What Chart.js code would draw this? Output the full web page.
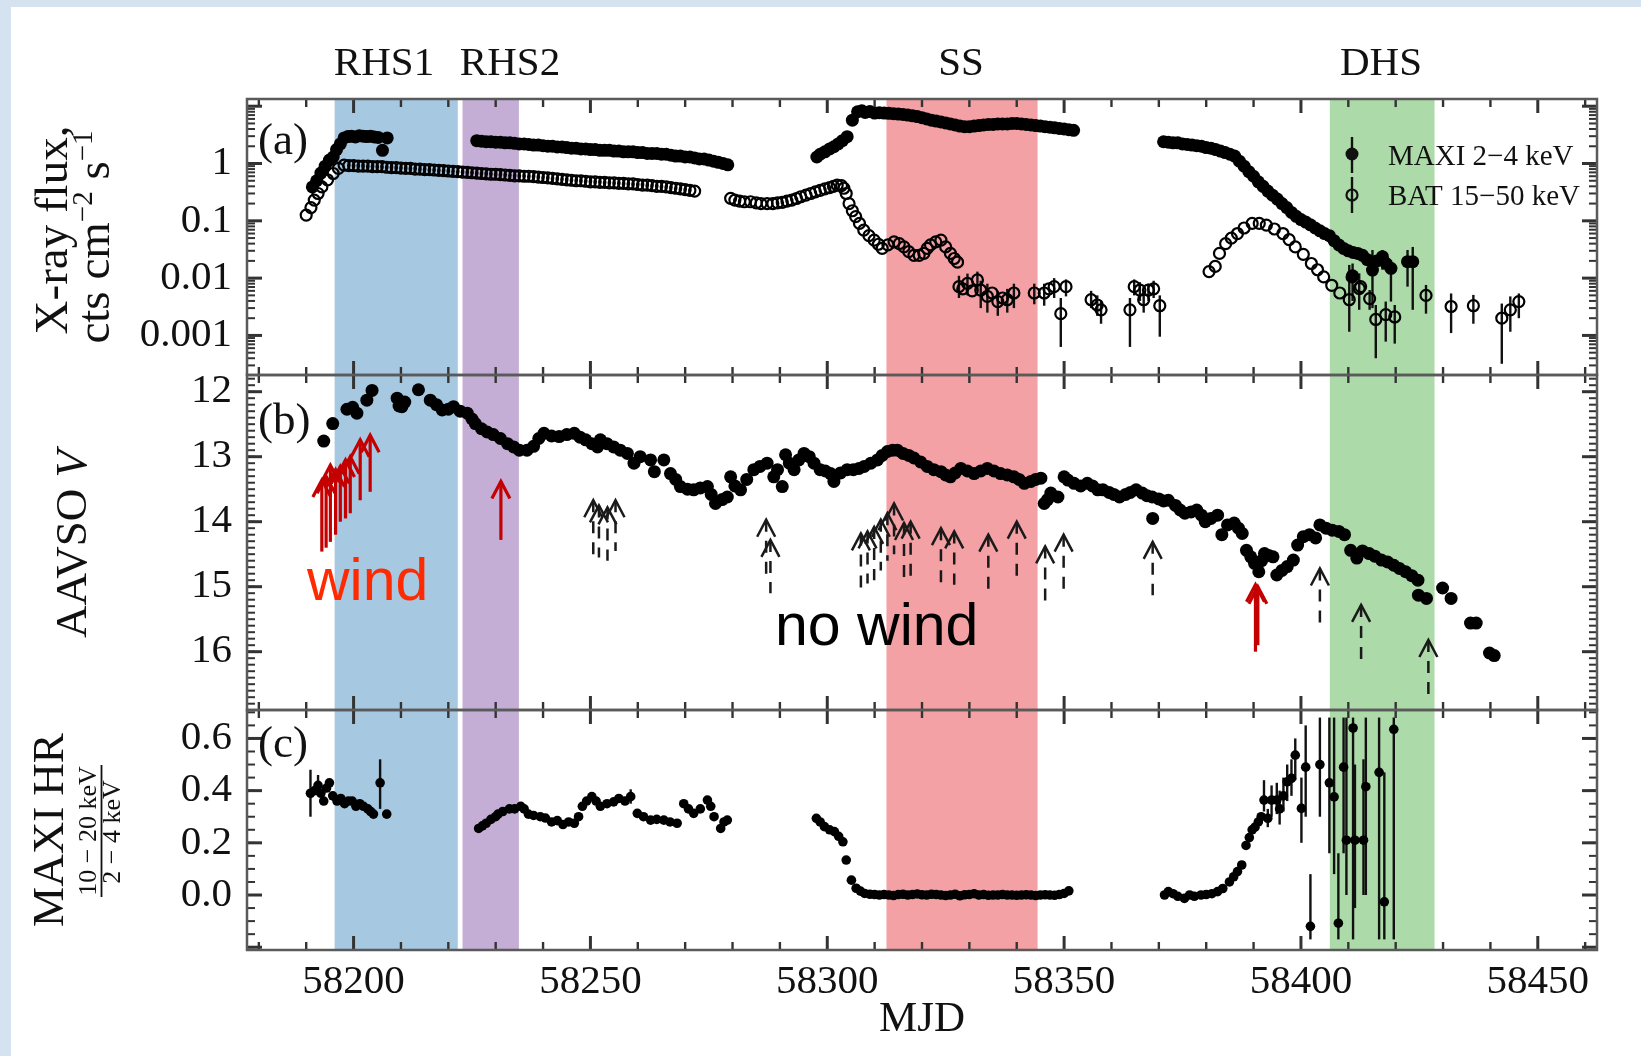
<!DOCTYPE html>
<html>
<head>
<meta charset="utf-8">
<script src="https://cdn.jsdelivr.net/npm/chart.js@4.4.1/dist/chart.umd.min.js"></script>
<style>
  html, body { margin: 0; padding: 0; }
  body { width: 1641px; height: 1056px; position: relative; overflow: hidden;
         background: #d5e3f1; }
  #sheet { position: absolute; left: 11px; top: 7px; right: 0; bottom: 0; background: #fff; }
  #chart { position: absolute; left: 0; top: 0; }
</style>
</head>
<body>
<div id="sheet"></div>
<canvas id="chart" width="1641" height="1056"></canvas>
<script>
// ---- axis ranges and ticks ----
const X_MIN = 58177.5, X_MAX = 58462.5;
const xMajorTicks = [58200, 58250, 58300, 58350, 58400, 58450];
const fluxTicks = [0.001, 0.01, 0.1, 1];
const fluxTickLabels = ['0.001', '0.01', '0.1', '1'];
const magTicks = [12, 13, 14, 15, 16];
const hrTicks = [0, 0.2, 0.4, 0.6];
const hrTickLabels = ['0.0', '0.2', '0.4', '0.6'];

// ---- spectral states (MJD start, end) ----
const stateNames = ['RHS1', 'RHS2', 'SS', 'DHS'];
const stateSpans = [[58196, 58222], [58223, 58234.9], [58312.5, 58344.4], [58406.1, 58428.2]];

// ---- (a) MAXI 2-4 keV flux ----
const maxiPoints = [
  [58191.3,0.39],[58192.2,0.5],[58193.1,0.68],[58194.0,0.9],[58194.9,1.15],[58195.7,1.3],[58196.4,1.75],
  [58197.2,2.2],[58198.0,2.8],[58198.8,2.95],[58199.6,3.0],[58200.4,2.9],[58201.2,3.05],[58202.0,3.0],
  [58202.8,2.95],[58203.6,3.0],[58204.4,2.9],[58205.2,2.85],[58206.1,1.7],[58207.1,2.8],
  [58226,2.5],[58227,2.45],[58228,2.4],[58229,2.4],[58230,2.35],[58231,2.35],[58232,2.3],[58233,2.3],
  [58234,2.25],[58235,2.2],[58236,2.2],[58237,2.15],[58238,2.1],[58239,2.1],[58240,2.05],[58241,2.0],
  [58242,2.0],[58243,1.95],[58244,1.95],[58245,1.9],[58246,1.85],[58247,1.85],[58248,1.8],[58249,1.8],
  [58250,1.75],[58251,1.75],[58252,1.7],[58253,1.7],[58254,1.7],[58255,1.65],[58256,1.65],[58257,1.6],
  [58258,1.6],[58259,1.6],[58260,1.55],[58261,1.55],[58262,1.5],[58263,1.5],[58264,1.5],[58265,1.45],
  [58266,1.45],[58267,1.4],[58268,1.35],[58269,1.35],[58270,1.3],[58271,1.3],[58272,1.25],[58273,1.2],
  [58274,1.2],[58275,1.15],[58276,1.1],[58277,1.05],[58278,1.0],[58279,0.95],
  [58297.8,1.3],[58298.5,1.45],[58299.5,1.6],[58300.5,1.8],[58301.4,1.96],[58302.3,2.2],[58303.2,2.5],
  [58304.2,2.94],[58305.3,5.7],[58306.4,8.0],[58307.3,8.3],[58308,7.8],[58309,8.1],[58310,7.6],
  [58311,7.7],[58312,7.6],[58313,7.5],[58314,7.4],[58315,7.3],[58316,7.2],[58317,7.0],[58318,6.8],
  [58319,6.6],[58320,6.3],[58321,6.0],[58322,5.7],[58323,5.5],[58324,5.3],[58325,5.1],[58326,4.9],
  [58327,4.7],[58328,4.5],[58329,4.4],[58330,4.4],[58331,4.5],[58332,4.6],[58333,4.7],[58334,4.8],
  [58335,4.8],[58336,4.9],[58337,4.9],[58338,4.9],[58339,5.0],[58340,5.0],[58341,4.9],[58342,4.8],
  [58343,4.7],[58344,4.6],[58345,4.5],[58346,4.4],[58347,4.3],[58348,4.2],[58349,4.1],[58350,4.0],
  [58351,3.9],[58352,3.8],
  [58371,2.4],[58372,2.35],[58373,2.3],[58374,2.3],[58375,2.2],[58376,2.15],[58377,2.1],[58378,2.05],
  [58379,2.0],[58380,1.9],[58381,1.85],[58382,1.75],[58383,1.65],[58384,1.55],[58385,1.45],[58386,1.35],
  [58387,1.1],[58388,0.9],[58389,0.72],[58390,0.6],[58391,0.48],[58392,0.4],[58393,0.33],[58394,0.28],
  [58395,0.24],[58396,0.2],[58397,0.17],[58398,0.14],[58399,0.12],[58400,0.105],[58401,0.095],
  [58402,0.085],[58403,0.075],[58404,0.067],[58405,0.06],[58406,0.055],[58407,0.045],[58408,0.038],
  [58409,0.033],[58410,0.03],[58410.9,0.011],[58411,0.028],[58412,0.027],[58413,0.025],[58414,0.021],
  [58415.1,0.0138],[58416,0.02],[58417.2,0.0237],[58418,0.018],[58419,0.0148],[58422.5,0.0194],[58423.6,0.0194]
];
const maxiErr = [
  [58410.9,0.004,0.018],[58415.1,0.003,0.031],[58417.2,0.014,0.031],[58419,0.0039,0.0207],
  [58422.5,0.0071,0.031],[58423.6,0.0028,0.035]
];

// ---- (a) BAT 15-50 keV flux ----
const batPoints = [
  [58190.0,0.126],[58191.0,0.17],[58191.7,0.23],[58192.5,0.3],[58193.3,0.39],[58194.5,0.52],[58195.7,0.67],
  [58196.8,0.82],[58198,0.94],[58199,0.92],[58200,0.92],[58201,0.9],[58202,0.9],[58203,0.9],[58204,0.88],
  [58205,0.88],[58206,0.88],[58207,0.86],[58208,0.85],[58209,0.85],[58210,0.83],[58211,0.82],[58212,0.82],
  [58213,0.8],[58214,0.8],[58215,0.78],[58216,0.78],[58217,0.77],[58218,0.76],[58219,0.75],[58220,0.74],
  [58221,0.73],[58222,0.72],[58223,0.71],[58224,0.7],[58225,0.69],[58226,0.68],[58227,0.67],[58228,0.66],
  [58229,0.65],[58230,0.65],[58231,0.64],[58232,0.63],[58233,0.62],[58234,0.61],[58235,0.61],[58236,0.6],
  [58237,0.6],[58238,0.59],[58239,0.58],[58240,0.57],[58241,0.56],[58242,0.55],[58243,0.54],[58244,0.53],
  [58245,0.52],[58246,0.51],[58247,0.5],[58248,0.5],[58249,0.49],[58250,0.48],[58251,0.48],[58252,0.47],
  [58253,0.47],[58254,0.46],[58255,0.46],[58256,0.45],[58257,0.45],[58258,0.44],[58259,0.44],[58260,0.43],
  [58261,0.42],[58262,0.42],[58263,0.41],[58264,0.4],[58265,0.4],[58266,0.39],[58267,0.38],[58268,0.37],
  [58269,0.36],[58270,0.35],[58271,0.34],[58272,0.33],
  [58279.6,0.247],[58280.5,0.23],[58281.5,0.22],[58282.5,0.215],[58283.8,0.215],[58285,0.205],[58286,0.2],
  [58287.3,0.2],[58288.5,0.2],[58289.5,0.205],[58290.5,0.21],[58291.5,0.22],[58292.5,0.23],[58293.5,0.245],
  [58294.4,0.263],[58295.5,0.28],[58296.5,0.3],[58297.5,0.32],[58298.5,0.34],[58299.5,0.36],[58300.5,0.38],
  [58301.3,0.4],[58302.1,0.42],[58303,0.41],[58303.5,0.37],[58304,0.3],[58304.6,0.2],[58305.3,0.15],
  [58306,0.118],[58306.8,0.09],[58307.7,0.069],[58308.8,0.055],[58309.9,0.046],[58310.8,0.039],
  [58311.6,0.033],[58312.8,0.038],[58314.1,0.043],[58315.2,0.04],[58316.2,0.035],[58317.2,0.029],
  [58318.3,0.025],[58319.4,0.025],[58320.4,0.027],[58321.1,0.033],[58321.8,0.038],[58322.9,0.043],
  [58324,0.046],[58325,0.035],[58326,0.027],[58326.8,0.022],[58327.5,0.019],
  [58327.8,0.0071],[58328.6,0.0065],[58329.6,0.0081],[58330.6,0.006],[58331.7,0.0093],[58332.4,0.0062],
  [58333.8,0.0048],[58334.8,0.0055],[58336,0.0039],[58337,0.0045],[58338,0.0042],[58339.4,0.0055],
  [58343.7,0.0055],[58345.8,0.0055],[58346.8,0.0065],[58347.9,0.0071],[58349.3,0.0024],[58350.4,0.0071],
  [58355.7,0.0042],[58357,0.0034],[58357.8,0.0028],[58363.9,0.0028],[58364.8,0.0071],[58366,0.0062],
  [58366.8,0.0042],[58367.8,0.0062],[58368.9,0.0065],[58370.2,0.0033],
  [58380.6,0.013],[58381.9,0.016],[58382.8,0.027],[58384.1,0.04],[58385.3,0.05],[58386.6,0.06],
  [58388,0.075],[58389.7,0.09],[58391.2,0.09],[58392.7,0.084],[58394.4,0.072],[58396.2,0.06],
  [58397.5,0.047],[58398.8,0.035],[58400.5,0.026],[58402.2,0.018],[58403.5,0.014],[58404.8,0.0105],
  [58406.5,0.0075],[58408.2,0.0055],[58410.2,0.0042],[58410.8,0.0105],[58412.3,0.0066],[58412.6,0.0071],
  [58414.5,0.0044],[58415.8,0.0019],[58417.9,0.0023],[58419.8,0.0021],[58426.4,0.005],[58431.7,0.0032],
  [58436.4,0.0033],[58442.4,0.002],[58444.2,0.0028],[58446,0.0039]
];
const batErr = [
  [58327.8,0.0045,0.011],[58329.6,0.005,0.012],[58331.7,0.006,0.013],[58332.4,0.003,0.009],
  [58333.8,0.0025,0.008],[58336,0.0022,0.006],[58338,0.0025,0.0065],[58339.4,0.003,0.008],
  [58343.7,0.0035,0.008],[58345.8,0.0033,0.008],[58347.9,0.0045,0.01],[58349.3,0.00063,0.0045],
  [58350.4,0.0048,0.0095],[58355.7,0.003,0.006],[58357,0.0022,0.005],[58357.8,0.0016,0.004],
  [58363.9,0.00063,0.0045],[58364.8,0.005,0.0095],[58366,0.004,0.0085],[58366.8,0.0025,0.006],
  [58367.8,0.004,0.008],[58368.9,0.0045,0.009],[58370.2,0.00095,0.005],
  [58410.2,0.00116,0.017],[58412.3,0.0028,0.0121],[58414.5,0.0028,0.0062],[58415.8,0.0004,0.0034],
  [58417.9,0.00078,0.0039],[58419.8,0.00072,0.0034],[58426.4,0.0024,0.0076],[58431.7,0.0011,0.0054],
  [58436.4,0.0016,0.0051],[58442.4,0.00032,0.0036],[58444.2,0.00116,0.0048],[58446,0.002,0.0054]
];

// ---- (b) AAVSO V magnitude ----
const vPoints = [
  [58193.7,12.76],[58195.6,12.49],[58198.6,12.27],[58199.8,12.24],[58200.7,12.33],[58202.8,12.13],
  [58203.9,11.98],[58209.2,12.1],[58209.6,12.22],[58210.2,12.23],[58210.8,12.16],[58213.7,11.97],
  [58216.2,12.13],[58217.5,12.2],[58218.7,12.28],[58220,12.27],[58221.1,12.23],[58222.5,12.3],
  [58224,12.33],[58225,12.42],[58225.7,12.49],[58227,12.57],[58228.2,12.62],[58229.5,12.66],
  [58231,12.72],[58232.5,12.8],[58233.8,12.85],[58235,12.9],[58236.6,12.9],[58238,12.84],
  [58239.1,12.72],[58240.2,12.64],[58241.8,12.68],[58243.4,12.69],[58245,12.66],[58246.6,12.64],
  [58247.8,12.7],[58249,12.74],[58250.3,12.8],[58251.5,12.85],[58252.1,12.74],[58253.5,12.8],
  [58254.9,12.85],[58256.3,12.9],[58257.8,12.95],[58259.2,13.1],[58260.5,13.0],[58262.7,13.05],
  [58263.5,13.23],[58265.5,13.05],[58266.9,13.26],[58268,13.35],[58269,13.46],[58270.5,13.5],
  [58271.8,13.51],[58273.2,13.48],[58274.7,13.46],[58275.5,13.58],[58276.4,13.72],[58277.8,13.66],
  [58278.9,13.62],[58279.6,13.31],[58280.5,13.45],[58281.7,13.51],[58283,13.35],[58284.5,13.2],
  [58285.8,13.15],[58287.3,13.1],[58288.7,13.31],[58289.5,13.2],[58290.5,13.46],[58291.2,12.97],
  [58292,13.1],[58293,13.2],[58294,13.05],[58295.1,12.95],[58296.2,13.0],[58297.2,13.1],
  [58298.5,13.2],[58299.6,13.22],[58300.7,13.26],[58301.4,13.38],[58302.8,13.25],[58304.2,13.2],
  [58305.5,13.2],[58306.7,13.18],[58307.8,13.15],[58309.2,13.1],[58310.6,13.05],[58311.6,12.98],
  [58312.7,12.92],[58313.8,12.9],[58314.8,12.9],[58316,12.95],[58317.2,12.98],[58318.3,13.02],
  [58319.7,13.08],[58321.1,13.15],[58322.5,13.2],[58324,13.23],[58325,13.28],[58326,13.31],
  [58327,13.25],[58328.2,13.18],[58329.6,13.22],[58331,13.26],[58332.4,13.22],[58333.8,13.18],
  [58335.2,13.22],[58336.6,13.26],[58338,13.28],[58339.4,13.31],[58340.5,13.35],[58341.6,13.41],
  [58343,13.38],[58344,13.35],[58345.1,13.33],[58345.8,13.72],[58346.5,13.66],[58347.2,13.56],
  [58348.7,13.62],[58350,13.31],[58350.8,13.36],[58352.1,13.41],[58353.5,13.45],[58354.9,13.41],
  [58356,13.45],[58357.1,13.51],[58358.2,13.51],[58359.5,13.55],[58360.5,13.58],[58361.7,13.62],
  [58363,13.58],[58364,13.55],[58365.2,13.51],[58366.5,13.56],[58367.5,13.6],[58368.6,13.62],
  [58368.7,13.95],[58370,13.65],[58371,13.68],[58372,13.67],[58373.5,13.75],[58374.5,13.82],
  [58375.5,13.87],[58376.8,13.85],[58378,13.82],[58379,13.9],[58379.8,14.0],[58381,13.95],
  [58382.4,13.9],[58383.3,14.2],[58384.5,14.05],[58385.9,14.02],[58386.8,14.1],[58387.6,14.18],
  [58388.5,14.44],[58389.4,14.54],[58390.2,14.64],[58391.1,14.77],[58391.7,14.6],[58392.3,14.49],
  [58393.2,14.52],[58394.1,14.54],[58394.9,14.82],[58396,14.75],[58397.1,14.69],[58398.4,14.59],
  [58399.3,14.36],[58400.5,14.23],[58401.8,14.2],[58403.1,14.25],[58404,14.05],[58405.3,14.1],
  [58406.6,14.13],[58408,14.15],[58409.2,14.2],[58410.5,14.44],[58411.8,14.56],[58413,14.45],
  [58414.4,14.49],[58415.6,14.53],[58417,14.59],[58418.3,14.62],[58419.6,14.67],[58420.8,14.72],
  [58422.1,14.77],[58423.4,14.83],[58424.7,14.9],[58424.8,15.13],[58426.5,15.18],[58429.9,15.02],
  [58431.7,15.18],[58435.8,15.56],[58437,15.56],[58439.8,16.02],[58440.8,16.06]
];

// ---- (b) spectral epochs: [MJD, arrow tip mag, arrow tail mag] ----
const windArrows = [
  [58193.3,13.36,14.46],[58194.2,13.3,14.4],[58195.1,13.13,14.31],[58196.2,13.2,14.2],[58197.2,13.15,14.0],
  [58198.3,13.05,13.95],[58199.3,13.0,13.87],[58201.4,12.74,13.67],[58203.5,12.67,13.54],
  [58231.1,13.38,14.28],[58390.4,14.97,16.0],[58390.9,15.0,15.9]
];
const noWindArrows = [
  [58250.6,13.67,14.5],[58251.8,13.75,14.55],[58253.6,13.78,14.6],[58255.3,13.67,14.45],
  [58287.1,13.97,14.9],[58288.0,14.28,15.1],[58307.1,14.18,15.02],[58308.5,14.15,14.95],
  [58309.9,14.08,14.9],[58311.3,13.97,14.75],[58312.7,13.87,14.6],[58314.1,13.72,14.5],
  [58316.2,14.02,14.85],[58317.6,14.0,14.85],[58324.0,14.1,14.95],[58326.8,14.15,14.97],
  [58334.0,14.2,15.05],[58340.0,14.0,14.85],[58346.0,14.38,15.23],[58349.9,14.2,15.05],
  [58368.7,14.31,15.13],[58404.0,14.72,15.56],[58412.7,15.28,16.13],[58426.9,15.82,16.67]
];

// ---- (c) MAXI hardness ratio ----
const hrPoints = [
  [58190.9,0.39],[58191.8,0.4],[58192.5,0.42],[58193.1,0.39],[58193.7,0.36],[58194.3,0.41],[58194.9,0.43],
  [58195.6,0.38],[58196.5,0.36],[58197.3,0.37],[58198.1,0.35],[58198.9,0.36],[58199.7,0.36],[58200.5,0.34],
  [58201.3,0.35],[58202.1,0.34],[58203,0.33],[58203.6,0.32],[58204.2,0.31],[58205.6,0.43],[58207,0.31],
  [58226.4,0.255],[58227.2,0.265],[58228,0.275],[58229,0.29],[58230,0.3],[58230.5,0.31],[58231.5,0.32],
  [58232.9,0.33],[58234,0.33],[58235.3,0.34],[58236,0.33],[58236.9,0.31],[58238,0.305],[58239.4,0.3],
  [58240.5,0.295],[58241.8,0.28],[58243,0.285],[58244.2,0.27],[58245.4,0.28],[58246.6,0.275],[58247.5,0.3],
  [58248.3,0.34],[58249.2,0.36],[58250.3,0.377],[58251.2,0.36],[58252.1,0.34],[58253.5,0.35],[58254.9,0.357],
  [58256,0.37],[58257.3,0.36],[58258.5,0.377],[58259.9,0.313],[58261.2,0.3],[58262.7,0.287],[58264,0.29],
  [58265.5,0.287],[58266.8,0.28],[58268.3,0.275],[58269.7,0.35],[58270.7,0.33],[58271.8,0.313],[58273.2,0.33],
  [58274.7,0.364],[58275.4,0.34],[58276.1,0.3],[58277.5,0.255],[58278.2,0.28],[58278.9,0.287],
  [58297.7,0.294],[58298.5,0.28],[58299.4,0.262],[58300.5,0.25],[58301.5,0.243],[58302.4,0.225],
  [58303.3,0.204],[58304,0.134],[58305.1,0.057],[58306.1,0.026],[58307,0.015],[58307.9,0.006],[58309,0.003],
  [58310,0.002],[58311,0.0],[58312,0.002],[58313,0.0],[58314,-0.002],[58315,0.002],[58316,0.003],[58317,0.0],
  [58318,0.002],[58319,0.004],[58320,0.001],[58321,0.0],[58322,0.003],[58323,0.002],[58324,0.0],[58325,-0.002],
  [58326,0.0],[58327,0.003],[58328,-0.003],[58329,0.001],[58330,0.002],[58331,0.005],[58332,0.0],[58333,0.002],
  [58334,-0.001],[58335,0.0],[58336,0.0],[58337,0.002],[58338,0.0],[58339,0.0],[58340,-0.001],[58341,0.0],
  [58342,0.001],[58343,0.0],[58344,-0.002],[58345,0.0],[58346,0.001],[58347,0.0],[58348,-0.001],[58349,0.002],
  [58350,0.006],[58351,0.016],
  [58371.2,0.0],[58372,0.013],[58373,0.005],[58374,-0.005],[58375.4,-0.013],[58376.5,0.0],[58377.5,-0.005],
  [58378.9,0.0],[58380,0.002],[58381.2,0.005],[58382.4,0.013],[58383.5,0.025],[58384.9,0.05],[58385.8,0.07],
  [58386.6,0.09],[58387.5,0.115],[58388.4,0.19],[58389.1,0.22],[58389.7,0.25],[58390.3,0.26],[58391,0.28],
  [58391.6,0.3],[58392.2,0.364],[58393,0.294],[58393.8,0.364],[58394.9,0.364],[58395.5,0.33],[58396.3,0.38],
  [58397.1,0.434],[58398,0.447],[58398.8,0.536],[58400.1,0.332],[58401,0.49],[58402,-0.12],[58404,0.5],
  [58406,0.43],[58407,0.376],[58407.9,-0.108],[58409,0.49],[58409.6,0.21],[58411,0.64],[58411.4,0.21],
  [58413.2,0.21],[58413.7,0.415],[58416.5,0.47],[58417.6,-0.026],[58419.6,0.635]
];
const hrErr = [
  [58190.9,0.3,0.48],[58192.5,0.38,0.46],[58205.6,0.33,0.52],[58258.5,0.35,0.405],
  [58392.2,0.32,0.44],[58393,0.26,0.33],[58393.8,0.3,0.42],[58394.9,0.31,0.43],[58395.5,0.27,0.4],
  [58396.3,0.32,0.45],[58397.1,0.36,0.5],[58398,0.38,0.52],[58398.8,0.44,0.6],[58400.1,0.2,0.45],
  [58401,0.3,0.65],[58402,-0.17,0.08],[58404,0.3,0.68],[58406,0.16,0.68],[58407,0.08,0.68],
  [58407.9,-0.17,0.16],[58409,0.16,0.68],[58409.6,0.0,0.68],[58411,-0.17,0.68],[58411.4,-0.05,0.5],
  [58413.2,0.0,0.52],[58413.7,0.0,0.68],[58416.5,-0.17,0.68],[58417.6,-0.17,0.47],[58419.6,-0.17,0.68]
];

// ---- styles ----
const SERIF = '"Liberation Serif", "DejaVu Serif", serif';
const SANS = '"Liberation Sans", Arial, sans-serif';
const STATE_COLORS = ['#a7c8e1', '#c4aed6', '#f3a1a4', '#addaa9'];
const INK = '#111';

const toXY = (pts) => pts.map(([m, v]) => ({ x: m, y: v }));

function rotatedText(ctx, cx, cy, parts) {
  ctx.save();
  ctx.translate(cx, cy);
  ctx.rotate(-Math.PI / 2);
  ctx.textAlign = 'left';
  ctx.textBaseline = 'alphabetic';
  let total = 0;
  parts.forEach((p) => { ctx.font = p.font; p.w = ctx.measureText(p.t).width; total += p.w; });
  let u = -total / 2;
  parts.forEach((p) => { ctx.font = p.font; ctx.fillText(p.t, u, p.dy || 0); u += p.w; });
  ctx.restore();
}

function drawArrow(ctx, px, yTip, yTail, dashed) {
  ctx.setLineDash([]);
  ctx.beginPath();
  ctx.moveTo(px - 9, yTip + 17);
  ctx.lineTo(px, yTip);
  ctx.lineTo(px + 9, yTip + 17);
  ctx.stroke();
  ctx.setLineDash(dashed ? [12, 9] : []);
  ctx.beginPath();
  ctx.moveTo(px, yTip);
  ctx.lineTo(px, yTail);
  ctx.stroke();
  ctx.setLineDash([]);
}

const panelsPlugin = {
  id: 'panels',
  beforeDatasetsDraw(chart) {
    const { ctx, chartArea: ca, scales } = chart;
    const x = scales.x;
    ctx.save();
    stateSpans.forEach((s, i) => {
      const x0 = x.getPixelForValue(s[0]);
      const x1 = x.getPixelForValue(s[1]);
      ctx.fillStyle = STATE_COLORS[i];
      ctx.fillRect(x0, ca.top, x1 - x0, ca.bottom - ca.top);
    });
    ctx.strokeStyle = INK;
    ctx.lineWidth = 2.4;
    const bars = (list, ys) => {
      ctx.save();
      ctx.beginPath();
      ctx.rect(ca.left, ys.top, ca.right - ca.left, ys.bottom - ys.top);
      ctx.clip();
      list.forEach(([m, lo, hi]) => {
        const px = x.getPixelForValue(m);
        ctx.beginPath();
        ctx.moveTo(px, ys.getPixelForValue(lo));
        ctx.lineTo(px, ys.getPixelForValue(hi));
        ctx.stroke();
      });
      ctx.restore();
    };
    bars(maxiErr, scales.ya);
    bars(batErr, scales.ya);
    bars(hrErr, scales.yc);
    ctx.restore();
  },
  afterDatasetsDraw(chart) {
    const { ctx, scales } = chart;
    const x = scales.x, yb = scales.yb;
    ctx.save();
    // spectral epoch arrows
    ctx.strokeStyle = '#c40000';
    ctx.lineWidth = 3.2;
    windArrows.forEach(([m, tip, tail]) =>
      drawArrow(ctx, x.getPixelForValue(m), yb.getPixelForValue(tip), yb.getPixelForValue(tail), false));
    ctx.strokeStyle = '#1a1a1a';
    ctx.lineWidth = 2.5;
    noWindArrows.forEach(([m, tip, tail]) =>
      drawArrow(ctx, x.getPixelForValue(m), yb.getPixelForValue(tip), yb.getPixelForValue(tail), true));

    // frames and inward ticks
    const L = x.left, R = x.right;
    const xMinor = [];
    for (let v = 58180; v <= 58460; v += 10) if (!xMajorTicks.includes(v)) xMinor.push(v);
    const panels = [
      { s: scales.ya, major: [0.001, 0.01, 0.1, 1, 10], minor: [] },
      { s: scales.yb, major: magTicks, minor: [] },
      { s: scales.yc, major: [-0.2, 0, 0.2, 0.4, 0.6], minor: [] }
    ];
    for (let d = -4; d <= 1; d++) for (let k = 2; k <= 9; k++) panels[0].minor.push(k * Math.pow(10, d));
    for (let v = 11.8; v < 16.95; v += 0.1) panels[1].minor.push(v);
    for (let v = -0.2; v < 0.71; v += 0.05) panels[2].minor.push(v);

    panels.forEach(({ s, major, minor }) => {
      const T = s.top, B = s.bottom;
      const inRange = (py) => py > T + 1 && py < B - 1;
      ctx.strokeStyle = '#333';
      const tick = (x0, y0, x1, y1, w) => {
        ctx.lineWidth = w;
        ctx.beginPath(); ctx.moveTo(x0, y0); ctx.lineTo(x1, y1); ctx.stroke();
      };
      xMajorTicks.forEach((v) => {
        const px = x.getPixelForValue(v);
        tick(px, T, px, T + 14, 3); tick(px, B, px, B - 14, 3);
      });
      xMinor.forEach((v) => {
        const px = x.getPixelForValue(v);
        tick(px, T, px, T + 8, 2.4); tick(px, B, px, B - 8, 2.4);
      });
      major.forEach((v) => {
        const py = s.getPixelForValue(v);
        if (!inRange(py)) return;
        tick(L, py, L + 15, py, 3); tick(R, py, R - 15, py, 3);
      });
      minor.forEach((v) => {
        const py = s.getPixelForValue(v);
        if (!inRange(py)) return;
        tick(L, py, L + 8, py, 2); tick(R, py, R - 8, py, 2);
      });
      ctx.strokeStyle = '#5a5a5a';
      ctx.lineWidth = 2.5;
      ctx.strokeRect(L, T, R - L, B - T);
    });
    ctx.restore();
  },
  afterDraw(chart) {
    const { ctx } = chart;
    ctx.save();
    ctx.fillStyle = INK;
    ctx.textBaseline = 'alphabetic';

    // state names above the top panel
    ctx.font = `41px ${SERIF}`;
    ctx.textAlign = 'center';
    const labelX = [384, 510, 961, 1381];
    stateNames.forEach((n, i) => ctx.fillText(n, labelX[i], 75));

    // panel letters
    ctx.textAlign = 'left';
    ctx.font = `45px ${SERIF}`;
    ctx.fillText('(a)', 258, 154);
    ctx.fillText('(b)', 258, 434);
    ctx.fillText('(c)', 258, 757);

    // axis titles
    rotatedText(ctx, 67, 230, [{ t: 'X-ray flux,', font: `47px ${SERIF}` }]);
    rotatedText(ctx, 109, 237, [
      { t: 'cts cm', font: `47px ${SERIF}` },
      { t: '\u22122', font: `29px ${SERIF}`, dy: -17 },
      { t: ' s', font: `47px ${SERIF}` },
      { t: '\u22121', font: `29px ${SERIF}`, dy: -17 }
    ]);
    rotatedText(ctx, 86, 544, [
      { t: 'AAVSO ', font: `45px ${SERIF}` },
      { t: 'V', font: `italic 45px ${SERIF}` }
    ]);
    rotatedText(ctx, 63, 830, [{ t: 'MAXI HR', font: `45px ${SERIF}` }]);
    rotatedText(ctx, 96, 831, [{ t: '10 \u2212 20 keV', font: `26px ${SERIF}` }]);
    rotatedText(ctx, 120, 832, [{ t: '2 \u2212 4 keV', font: `26px ${SERIF}` }]);
    ctx.strokeStyle = INK;
    ctx.lineWidth = 1.8;
    ctx.beginPath(); ctx.moveTo(101.5, 765); ctx.lineTo(101.5, 897); ctx.stroke();

    // legend
    ctx.lineWidth = 2.4;
    ctx.beginPath(); ctx.moveTo(1352, 137); ctx.lineTo(1352, 173); ctx.stroke();
    ctx.beginPath(); ctx.arc(1352, 154, 6.5, 0, Math.PI * 2); ctx.fill();
    ctx.beginPath(); ctx.moveTo(1352, 177); ctx.lineTo(1352, 213); ctx.stroke();
    ctx.lineWidth = 2.2;
    ctx.beginPath(); ctx.arc(1352, 195, 5.5, 0, Math.PI * 2); ctx.stroke();
    ctx.font = `29px ${SERIF}`;
    ctx.fillText('MAXI 2\u22124 keV', 1388, 165);
    ctx.fillText('BAT 15\u221250 keV', 1388, 205);

    // wind annotations
    ctx.font = `59px ${SANS}`;
    ctx.fillStyle = '#ff2a00';
    ctx.fillText('wind', 307, 600);
    ctx.fillStyle = '#000';
    ctx.fillText('no wind', 775, 645);
    ctx.restore();
  }
};

const hidden = { display: false, drawTicks: false };
const tickFont = { family: SERIF, size: 41 };
const yTicks = (cb) => ({ font: tickFont, color: INK, padding: 15, autoSkip: false, callback: cb });

new Chart(document.getElementById('chart'), {
  type: 'scatter',
  data: {
    datasets: [
      { label: 'MAXI 2-4 keV', data: toXY(maxiPoints), yAxisID: 'ya',
        pointRadius: 6.5, pointBackgroundColor: '#000', pointBorderWidth: 0 },
      { label: 'BAT 15-50 keV', data: toXY(batPoints), yAxisID: 'ya',
        pointRadius: 5.5, pointBackgroundColor: 'rgba(0,0,0,0)', pointBorderColor: '#000', pointBorderWidth: 2.2 },
      { label: 'AAVSO V', data: toXY(vPoints), yAxisID: 'yb',
        pointRadius: 6.5, pointBackgroundColor: '#000', pointBorderWidth: 0 },
      { label: 'MAXI HR', data: toXY(hrPoints), yAxisID: 'yc',
        pointRadius: 4.8, pointBackgroundColor: '#000', pointBorderWidth: 0 }
    ]
  },
  options: {
    responsive: false,
    animation: false,
    devicePixelRatio: 1,
    layout: { padding: { top: 99, right: 44, left: 0, bottom: 0 } },
    plugins: { legend: { display: false }, tooltip: { enabled: false } },
    scales: {
      x: {
        type: 'linear', position: 'bottom', min: X_MIN, max: X_MAX,
        grid: hidden, border: { display: false },
        ticks: { font: tickFont, color: INK, padding: 8, autoSkip: false, maxRotation: 0,
                 callback: (v) => String(v) },
        afterBuildTicks: (s) => { s.ticks = xMajorTicks.map((v) => ({ value: v })); },
        afterFit: (s) => { s.height = 106; },
        title: { display: true, text: 'MJD', font: { family: SERIF, size: 43 }, color: INK,
                 padding: { top: 0, bottom: 10 } }
      },
      ya: {
        type: 'logarithmic', position: 'left', stack: 'panels', stackWeight: 276, weight: 3,
        min: 2.04e-4, max: 13.36,
        grid: hidden, border: { display: false },
        ticks: yTicks((v) => fluxTickLabels[fluxTicks.indexOf(v)] ?? ''),
        afterBuildTicks: (s) => { s.ticks = fluxTicks.map((v) => ({ value: v })); },
        afterFit: (s) => { s.width = 247; }
      },
      yb: {
        type: 'linear', position: 'left', stack: 'panels', stackWeight: 335, weight: 2,
        min: 11.743, max: 16.897, reverse: true,
        grid: hidden, border: { display: false },
        ticks: yTicks((v) => String(v)),
        afterBuildTicks: (s) => { s.ticks = magTicks.map((v) => ({ value: v })); },
        afterFit: (s) => { s.width = 247; }
      },
      yc: {
        type: 'linear', position: 'left', stack: 'panels', stackWeight: 240, weight: 1,
        min: -0.2107, max: 0.709,
        grid: hidden, border: { display: false },
        ticks: yTicks((v) => hrTickLabels[hrTicks.indexOf(v)] ?? ''),
        afterBuildTicks: (s) => { s.ticks = hrTicks.map((v) => ({ value: v })); },
        afterFit: (s) => { s.width = 247; }
      }
    }
  },
  plugins: [panelsPlugin]
});
</script>
</body>
</html>
